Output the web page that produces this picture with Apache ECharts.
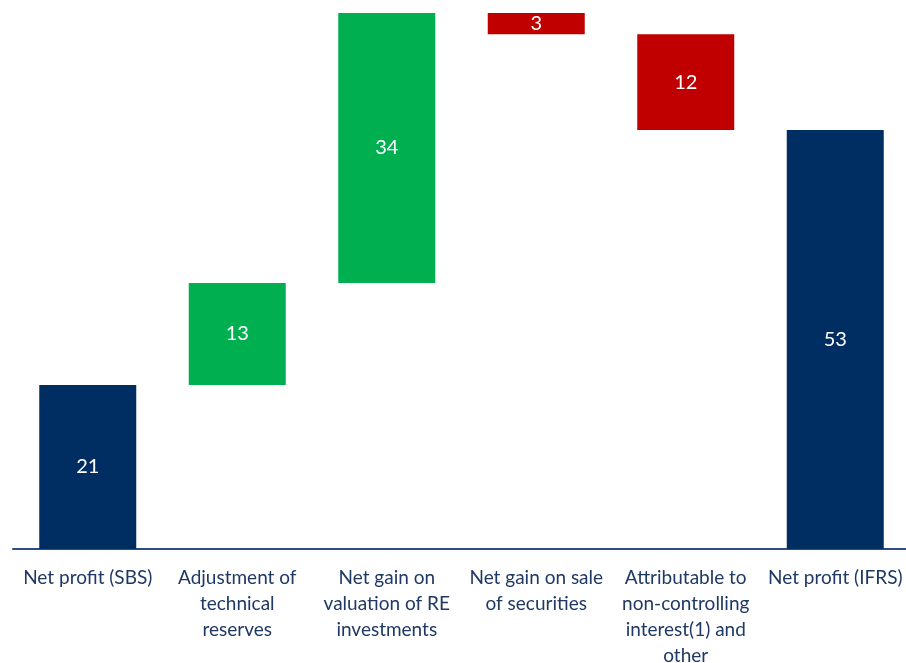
<!DOCTYPE html>
<html>
<head>
<meta charset="utf-8">
<script src="https://cdn.jsdelivr.net/npm/echarts@6/dist/echarts.min.js"></script>
<style>html,body{margin:0;padding:0;background:#fff;}#c{width:906px;height:663px;}</style>
</head>
<body>
<div id="c"></div>
<script>
// Data
const categories = [
  'Net profit (SBS)',
  'Adjustment of\ntechnical\nreserves',
  'Net gain on\nvaluation of RE\ninvestments',
  'Net gain on sale\nof securities',
  'Attributable to\nnon-controlling\ninterest(1) and\nother',
  'Net profit (IFRS)'
];
// signed changes; first and last are totals
const values = [20.9, 13.0, 34.4, -2.7, -12.2, 53.4];
const displayLabels = ['21', '13', '34', '3', '12', '53'];
const kinds = ['total', 'up', 'up', 'down', 'down', 'total'];

const colors = { total: '#002D62', up: '#00B050', down: '#C00000' };

// build waterfall base/height
const base = [], height = [];
let running = 0;
values.forEach((v, i) => {
  if (kinds[i] === 'total') {
    base.push(0); height.push(Math.abs(v)); running = v;
  } else if (v >= 0) {
    base.push(running); height.push(v); running += v;
  } else {
    running += v; base.push(running); height.push(-v);
  }
});
const maxTop = Math.max(...base.map((b, i) => b + height[i]));

const chart = echarts.init(document.getElementById('c'), null, { renderer: 'canvas' });
chart.setOption({
  animation: false,
  grid: { left: 13, right: -4, top: 13, bottom: 114, containLabel: false, outerBoundsMode: 'none' },
  xAxis: {
    type: 'category',
    data: categories,
    axisLine: { lineStyle: { color: '#2E4C7E', width: 2 } },
    axisTick: { show: false },
    axisLabel: {
      interval: 0,
      margin: 16,
      color: '#1F3864',
      fontFamily: 'Lato',
      fontSize: 19,
      lineHeight: 26
    }
  },
  yAxis: {
    type: 'value',
    min: 0,
    max: maxTop,
    show: false,
    splitLine: { show: false }
  },
  series: [
    {
      type: 'bar',
      stack: 'w',
      data: base,
      barWidth: 97,
      itemStyle: { color: 'transparent' },
      emphasis: { disabled: true },
      silent: true
    },
    {
      type: 'bar',
      stack: 'w',
      barWidth: 97,
      data: height.map((h, i) => ({ value: h, itemStyle: { color: colors[kinds[i]] } })),
      label: {
        show: true,
        position: 'inside',
        color: '#ffffff',
        fontFamily: 'Lato',
        fontSize: 20,
        formatter: p => displayLabels[p.dataIndex]
      }
    }
  ]
});
</script>
</body>
</html>
